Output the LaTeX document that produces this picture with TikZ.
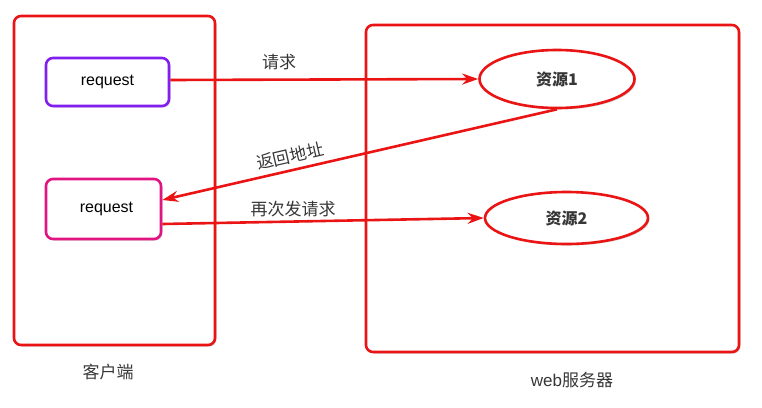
\documentclass[tikz,border=0pt]{standalone}
\usepackage{fontspec}
\setmainfont{Liberation Sans}
\newfontfamily\cjk{Noto Sans CJK SC}
\usetikzlibrary{arrows.meta,shapes.geometric,shadows}
\definecolor{rline}{RGB}{235,20,20}
\definecolor{purp}{RGB}{130,30,240}
\definecolor{pinkm}{RGB}{225,20,130}
\definecolor{txt}{RGB}{55,55,55}
\tikzset{
  shd/.style={drop shadow={opacity=0.35,shadow xshift=1.5pt,shadow yshift=-1.5pt,fill=gray}},
  bigbox/.style={draw=rline,line width=2.6pt,rounded corners=7pt,fill=white,shd},
  reqbox/.style={line width=2.6pt,rounded corners=7pt,fill=white,shd,font=\fontsize{16}{18}\selectfont,text=black},
  res/.style={ellipse,draw=rline,line width=2.6pt,fill=white,shd,inner sep=0pt,font=\fontsize{16}{18}\selectfont\bfseries\cjk,text=txt},
  lbl/.style={font=\fontsize{17}{19}\selectfont\cjk,text=txt,inner sep=1pt},
  conn/.style={draw=rline,line width=2.6pt,-{Stealth[length=16pt,width=11pt]}},
}
\begin{document}
\begin{tikzpicture}[x=1pt,y=-1pt]
\useasboundingbox (0,0) rectangle (762,407);
\node[bigbox,minimum width=201pt,minimum height=329pt] (client) at (114.5,180.5) {};
\node[bigbox,minimum width=373pt,minimum height=327pt] (server) at (552.5,188.5) {};
\node[reqbox,draw=purp,minimum width=123pt,minimum height=48pt] (req1) at (107.5,82) {request};
\node[reqbox,draw=pinkm,minimum width=115pt,minimum height=60pt] (req2) at (103.5,209) {\hspace*{6pt}request};
\node[res,minimum width=155pt,minimum height=58pt] (r1) at (557,79) {资源1};
\node[res,minimum width=163pt,minimum height=52pt] (r2) at (566.5,218) {资源2};
\draw[conn] (req1.east |- 0,80) -- (r1.west);
\draw[conn] (r1.south) -- (req2.east |- 0,200) coordinate (back);
\draw[conn] (req2.east |- 0,224) -- (r2.west);
\node[lbl] (l1) at (279,62) {请求};
\node[lbl,rotate=13] (l2) at (290,156) {返回地址};
\node[lbl] (l3) at (293,209) {再次发请求};
\node[lbl] (lc) at (108,372) {客户端};
\node[lbl,font=\fontsize{17}{19}\selectfont] (ls) at (572,380) {web{\cjk 服务器}};
\end{tikzpicture}
\end{document}
